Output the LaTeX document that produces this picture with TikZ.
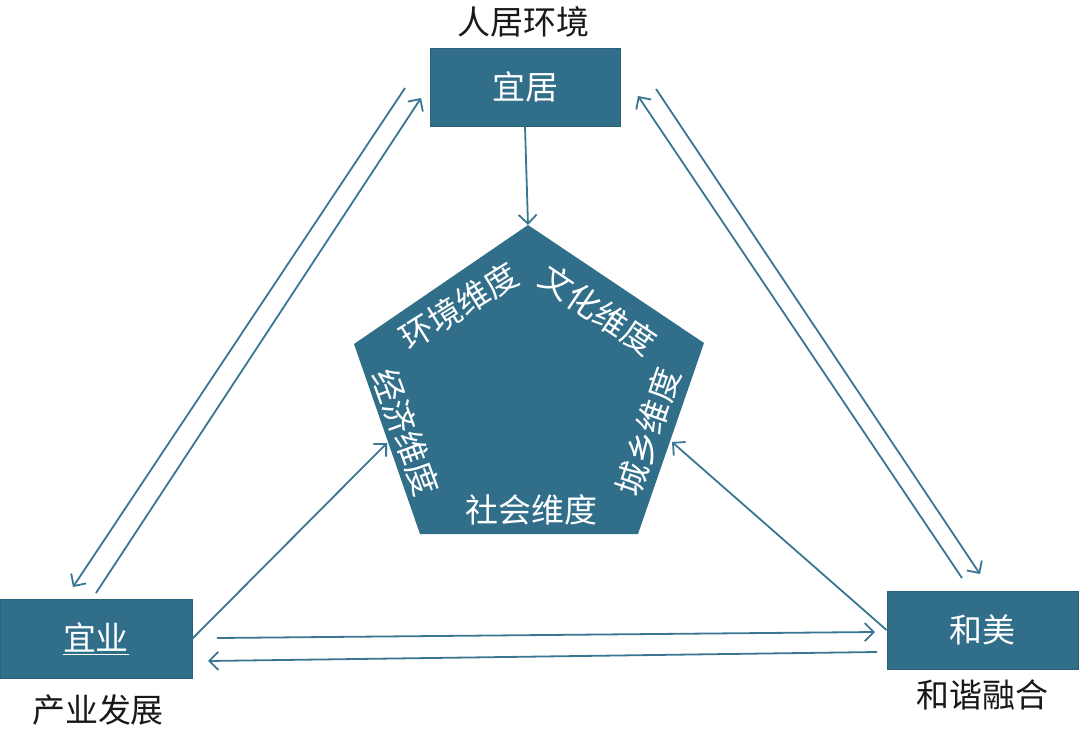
\documentclass[tikz,border=0pt]{standalone}
\usepackage{fontspec}
\newfontfamily\cjk{Noto Sans CJK SC}
\usetikzlibrary{arrows.meta,calc}
\definecolor{teal1}{HTML}{316E89}
\definecolor{teal2}{HTML}{2A6079}
\definecolor{lineC}{HTML}{3A7592}
\tikzset{
  box/.style={draw=teal2,line width=1pt,fill=teal1,minimum width=190pt,minimum height=78pt,
    inner sep=0pt,text=white,font=\cjk\fontsize{33}{38}\selectfont},
  lbl/.style={text=black!90,inner sep=0pt,font=\cjk\fontsize{33}{38}\selectfont},
  dim/.style={text=white,inner sep=0pt,font=\cjk\fontsize{33}{36}\selectfont},
  conn/.style={draw=lineC,line width=1.8pt,-{Straight Barb[length=9pt,width=18pt,line width=1.8pt]}},
  plain/.style={draw=lineC,line width=1.8pt}
}
\begin{document}
\begin{tikzpicture}[x=1pt,y=-1pt]
\useasboundingbox (0,0) rectangle (1080,734);
% boxes
\node[box] (yiju) at (525,87) {宜居};
\node[box,minimum width=192pt,minimum height=79pt] (yiye) at (96,638.5) {\underline{宜业}};
\node[box,minimum width=191pt] (hemei) at (982.5,630) {和美};
% labels
\node[lbl] (l1) at (523,22) {人居环境};
\node[lbl] (l2) at (98,710) {产业发展};
\node[lbl] (l3) at (982,695) {和谐融合};
% pentagon
\coordinate (pt) at (528,225);
\coordinate (ptl) at (354,344);
\coordinate (ptr) at (704,343);
\coordinate (pbr) at (638,534);
\coordinate (pbl) at (420,534);
\fill[teal1] (pt) -- (ptr) -- (pbr) -- (pbl) -- (ptl) -- cycle;
\node[dim,rotate=32] (d1) at (459,306) {环境维度};
\node[dim,rotate=-34] (d2) at (598,310) {文化维度};
\node[dim,rotate=71] (d3) at (648,432) {城乡维度};
\node[dim] (d4) at (531,510) {社会维度};
\node[dim,rotate=-70] (d5) at (406,432) {经济维度};
% connector end points on pentagon
\coordinate (pL) at (387,443);
\coordinate (pR) at (672,442);
% arrows to pentagon
\draw[conn] (yiju.south) -- (pt);
\draw[conn] (yiye.east) -- (pL);
\draw[conn] (hemei.west) -- (pR);
% bottom pair
\coordinate (a1) at (217,638);
\coordinate (a2) at (875,632);
\coordinate (b1) at (877,652);
\coordinate (b2) at (208,661);
\draw[conn] (a1) -- (a2);
\draw[conn] (b1) -- (b2);
% left pair
\coordinate (c1) at (405,88);
\coordinate (c2) at (73,587);
\coordinate (e1) at (96,593);
\coordinate (e2) at (421,98);
\draw[conn] (c1) -- (c2);
\draw[conn] (e1) -- (e2);
% right pair
\coordinate (f1) at (962,578);
\coordinate (f2) at (638,96);
\coordinate (g1) at (656,89);
\coordinate (g2) at (980,574);
\draw[conn] (f1) -- (f2);
\draw[conn] (g1) -- (g2);
\end{tikzpicture}
\end{document}
